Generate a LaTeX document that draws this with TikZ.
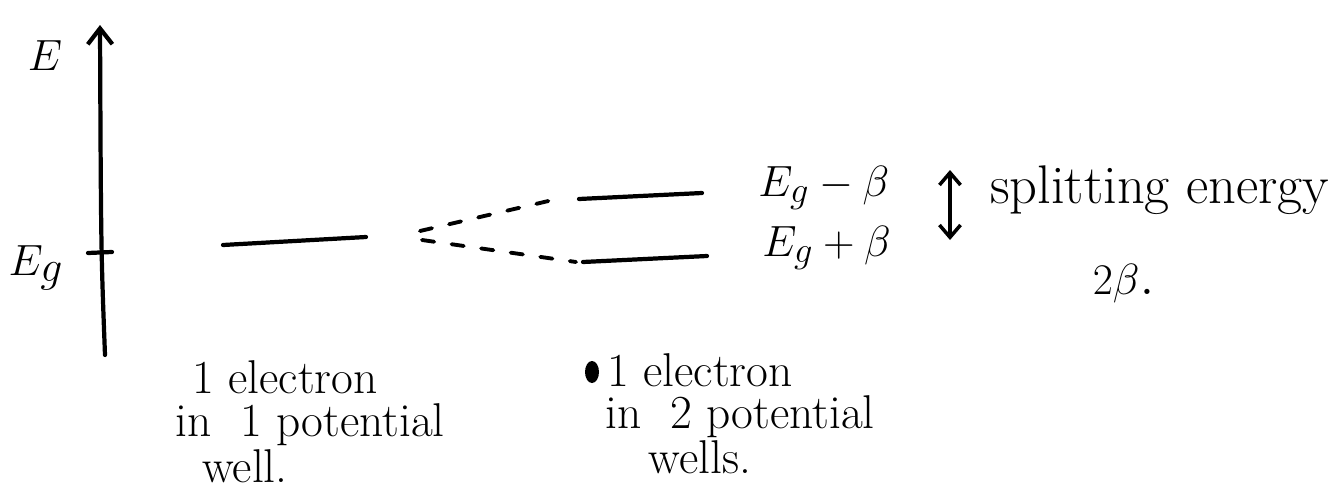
\documentclass[tikz,border=0pt]{standalone}
\usetikzlibrary{arrows.meta}
\begin{document}
\begin{tikzpicture}[x=0.02cm,y=-0.02cm,
  ink/.style={line width=2.4pt,line cap=round},
  dashink/.style={line width=2.2pt,dash pattern=on 7pt off 10pt,line cap=round},
  lbl/.style={inner sep=0pt,font=\fontsize{27}{30}\selectfont},
  mlbl/.style={inner sep=0pt,font=\fontsize{30}{34}\selectfont},
  blbl/.style={inner sep=0pt,font=\fontsize{36}{40}\selectfont}]
\useasboundingbox (0,0) rectangle (1340,494);
% axis
\coordinate (ax0) at (105,355);
\coordinate (ax1) at (100,25);
\draw[ink,-{Straight Barb[length=9pt,width=14pt,line width=2.4pt]}] (ax0) .. controls (101,250) .. (ax1);
\coordinate (tk0) at (88,253);
\coordinate (tk1) at (112,252);
\draw[ink] (tk0) -- (tk1);
\node[blbl] (E) at (45,56) {$E$};
\node[blbl] (Eg) at (36,268) {$E_g$};
% single level
\coordinate (l1a) at (223,245);
\coordinate (l1b) at (366,237);
\draw[ink] (l1a) -- (l1b);
% split levels
\coordinate (up0) at (420,231);
\coordinate (up1) at (557,199);
\coordinate (lo0) at (422,240);
\coordinate (lo1) at (576,262);
\draw[dashink] (up0) -- (up1);
\draw[dashink] (lo0) -- (lo1);
\coordinate (ua) at (579,199);
\coordinate (ub) at (702,193);
\coordinate (la) at (583,262);
\coordinate (lb) at (707,256);
\draw[ink] (ua) -- (ub);
\draw[ink] (la) -- (lb);
\node[mlbl,anchor=west] (Em) at (758,188) {$E_g - \beta$};
\node[mlbl,anchor=west] (Ep) at (762,248) {$E_g + \beta$};
% splitting arrow
\coordinate (sa0) at (950,170);
\coordinate (sa1) at (950,240);
\draw[ink,{Straight Barb[length=7pt,width=12pt,line width=2pt]}-{Straight Barb[length=7pt,width=12pt,line width=2pt]}] (sa0) -- (sa1);
\node[inner sep=0pt,font=\fontsize{31}{34}\selectfont,anchor=west] (split) at (990,190) {splitting energy};
\node[blbl] (twob) at (1124,284) {$2\beta$.};
% captions
\node[lbl] (c1a) at (285,377) {1 electron};
\node[lbl] (c1b) at (310,425) {in\ \ 1 potential};
\node[lbl] (c1c) at (245,466) {well.};
\fill (592,372) ellipse (7 and 11);
\node[lbl] (c2a) at (700,370) {1 electron};
\node[lbl] (c2b) at (740,417) {in\ \ 2 potential};
\node[lbl] (c2c) at (700,457) {wells.};
\end{tikzpicture}
\end{document}
